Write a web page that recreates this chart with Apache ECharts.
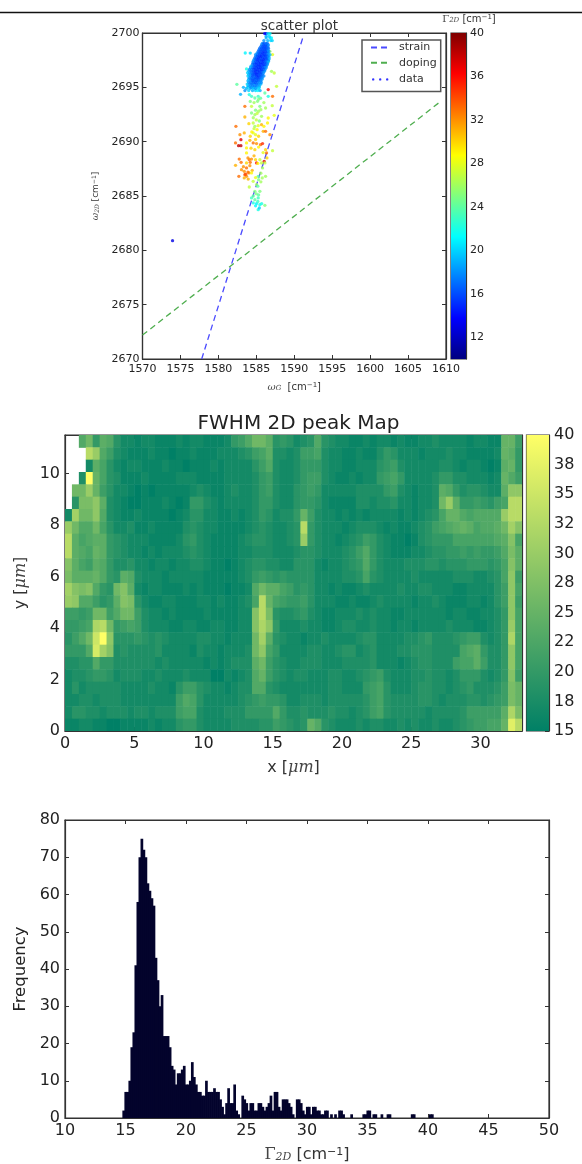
<!DOCTYPE html>
<html><head><meta charset="utf-8">
<script src="https://cdn.jsdelivr.net/npm/echarts@6/dist/echarts.min.js"></script>
<style>html,body{margin:0;padding:0;background:#fff}#c{width:582px;height:1164px;filter:blur(0.6px)}</style>
</head><body><div id="c"></div>
<script>
const n = null;
// ---- scatter plot: sparse points [omega_G, omega_2D, gamma_2D]
const sparsePoints = [
[1583.54,2698.16,21],[1583.71,2696.69,22],[1582.44,2695.28,24],[1582.92,2694.36,19],[1586.57,2694.79,36],[1587.14,2694.17,33],
[1587.67,2695.09,27],[1587.01,2696.47,26],[1587.36,2696.32,27],[1587.14,2698.01,28],[1586.79,2698.31,26],[1586.57,2697.39,25],
[1583.49,2693.25,33],[1584.37,2693.25,27],[1585.16,2693.71,25],[1585.47,2693.25,25],[1585.6,2692.94,26],[1586.22,2693.10,26],
[1587.1,2693.31,27],[1584.81,2694.02,24],[1585.25,2694.17,23],[1584.37,2694.17,23],[1584.07,2694.33,22],[1585.56,2694.0,24],
[1586.57,2694.17,22],[1586.13,2694.48,24],[1583.49,2692.27,31],[1584.37,2692.64,25],[1584.81,2692.48,26],[1585.69,2692.33,26],
[1586.57,2692.18,29],[1587.36,2692.42,28],[1582.31,2691.41,33],[1584.02,2691.66,30],[1584.59,2691.72,27],[1584.81,2691.41,26],
[1585.25,2691.47,28],[1585.69,2691.56,31],[1586.0,2691.41,29],[1586.48,2691.72,29],[1582.84,2690.64,32],[1583.41,2690.8,31],
[1584.59,2690.8,28],[1584.9,2690.64,28],[1585.91,2690.95,31],[1586.22,2690.95,33],[1586.79,2690.64,32],[1582.97,2690.18,37],
[1582.26,2689.88,33],[1582.66,2689.63,38],[1582.97,2689.63,38],[1583.71,2689.88,29],[1584.15,2690.12,31],[1584.59,2689.88,33],
[1585.03,2689.82,32],[1585.56,2689.72,33],[1585.82,2689.82,35],[1583.71,2689.42,29],[1584.81,2689.26,30],[1583.71,2688.96,29],
[1586.22,2689.26,30],[1587.14,2689.17,27],[1586.35,2688.96,33],[1582.75,2688.4,33],[1584.07,2688.34,33],[1584.37,2688.4,32],
[1584.9,2688.34,30],[1585.47,2688.34,27],[1586.04,2688.19,37],[1585.69,2688.04,27],[1582.26,2687.82,31],[1583.71,2688.04,30],
[1584.15,2687.79,32],[1583.71,2687.58,33],[1583.05,2687.42,32],[1583.41,2687.27,32],[1584.46,2687.36,31],[1585.03,2688.04,36],
[1586.13,2688.04,27],[1585.82,2687.58,26],[1582.7,2686.81,33],[1583.49,2686.96,34],[1583.71,2686.81,32],[1584.02,2687.12,32],
[1584.37,2687.12,29],[1583.41,2686.66,31],[1583.93,2686.56,31],[1585.25,2686.81,24],[1585.78,2686.66,26],[1586.22,2686.81,26],
[1584.59,2686.35,27],[1584.07,2685.83,27],[1585.03,2686.04,26],[1585.47,2685.43,25],[1584.81,2685.43,25],[1584.37,2684.82,23],
[1584.81,2684.66,24],[1585.25,2684.82,23],[1584.59,2684.36,22],[1585.03,2684.3,21],[1585.47,2684.2,22],[1585.25,2683.74,22],
[1586.13,2684.14,25],[1573.96,2680.89,13],
[1584.9,2692.9,25],[1585.1,2692.6,27],[1585.3,2692.8,26],[1584.6,2692.2,26],[1585.0,2692.0,27],[1585.4,2691.9,25],[1584.7,2691.2,27],
[1585.1,2691.1,29],[1584.4,2690.9,29],[1585.3,2690.5,30],[1584.2,2690.5,30],[1584.9,2690.2,30],[1585.3,2689.5,29],[1584.3,2689.4,30],
[1585.9,2689.0,28],[1586.4,2688.5,30],[1584.7,2688.7,31],[1583.9,2688.5,32],[1584.2,2688.1,33],[1585.2,2688.0,29],[1583.0,2688.1,33],
[1583.3,2687.7,32],[1583.9,2687.2,33],[1583.6,2687.0,34],[1585.6,2687.1,26],[1585.3,2686.5,25],[1585.6,2686.3,26],[1584.9,2686.7,28],
[1585.2,2685.9,24],[1585.0,2685.2,25],[1585.3,2685.1,24],[1584.6,2685.0,24],[1585.2,2684.5,23],[1584.9,2684.1,21],[1585.7,2684.3,22],
[1585.4,2683.9,20],[1584.7,2693.6,26],[1585.3,2693.9,25],[1586.0,2693.6,26],[1584.2,2693.7,25]
];
// dense blue cloud: [omega_2D, [omega_G, gamma, omega_G, gamma, ...]]
const cloudRows = [
[2694.7,[1583.5,18,1584.0,20,1584.5,19,1584.9,20,1585.2,21,1585.5,19]],
[2694.9,[1583.7,19,1584.2,19,1584.6,20,1584.9,18,1585.3,20]],
[2695.0,[1583.3,19,1583.9,20,1584.3,18,1584.6,19,1585.0,19,1585.4,20]],
[2695.15,[1583.9,19,1584.2,18,1584.5,18,1584.8,17,1585.1,18,1585.4,19]],
[2695.3,[1583.8,20,1584.15,18,1584.45,17,1584.75,18,1585.05,17,1585.35,18,1585.6,19]],
[2695.45,[1584.0,18,1584.3,17,1584.6,17,1584.85,16,1585.1,17,1585.4,18,1585.65,18]],
[2695.6,[1583.9,19,1584.25,18,1584.55,16,1584.8,17,1585.05,16,1585.3,17,1585.6,18]],
[2695.75,[1584.0,19,1584.3,17,1584.55,16,1584.8,16,1585.0,17,1585.25,16,1585.5,17,1585.75,18]],
[2695.9,[1584.05,18,1584.35,17,1584.6,17,1584.85,16,1585.1,16,1585.35,16,1585.6,17,1585.8,18]],
[2696.05,[1583.9,20,1584.2,18,1584.5,16,1584.75,17,1585.0,16,1585.25,15,1585.5,16,1585.75,17,1586.0,18]],
[2696.2,[1584.0,19,1584.3,18,1584.55,16,1584.8,16,1585.05,15,1585.3,16,1585.55,16,1585.8,17]],
[2696.35,[1583.85,20,1584.15,18,1584.45,17,1584.7,16,1584.95,15,1585.2,15,1585.45,16,1585.7,16,1585.95,18]],
[2696.5,[1584.0,19,1584.3,17,1584.6,16,1584.9,15,1585.15,16,1585.4,15,1585.65,16,1585.9,17,1586.1,18]],
[2696.65,[1584.1,18,1584.4,17,1584.7,16,1584.95,15,1585.2,15,1585.45,16,1585.7,15,1585.95,16,1586.15,18]],
[2696.8,[1584.25,18,1584.55,16,1584.8,15,1585.05,16,1585.3,15,1585.55,15,1585.8,16,1586.05,16,1586.3,18]],
[2696.95,[1584.3,19,1584.6,17,1584.85,16,1585.1,15,1585.35,16,1585.6,15,1585.85,16,1586.1,17,1586.3,18]],
[2697.1,[1584.5,18,1584.75,16,1585.0,16,1585.25,15,1585.5,15,1585.75,16,1586.0,15,1586.25,16,1586.45,18]],
[2697.25,[1584.55,17,1584.8,16,1585.05,15,1585.3,16,1585.55,15,1585.8,15,1586.05,16,1586.3,16,1586.5,18]],
[2697.4,[1584.6,18,1584.9,16,1585.15,16,1585.4,15,1585.65,16,1585.9,15,1586.15,16,1586.4,17,1586.6,19]],
[2697.55,[1584.7,18,1584.95,16,1585.2,15,1585.45,16,1585.7,15,1585.95,15,1586.2,16,1586.4,17,1586.65,18]],
[2697.7,[1584.8,17,1585.05,16,1585.3,15,1585.55,16,1585.8,16,1586.05,15,1586.3,16,1586.5,16,1586.7,19]],
[2697.85,[1584.95,17,1585.2,16,1585.45,15,1585.7,15,1585.95,16,1586.2,16,1586.4,16,1586.6,18]],
[2698.0,[1584.9,18,1585.15,16,1585.4,16,1585.65,15,1585.9,16,1586.1,15,1586.35,16,1586.6,17,1586.8,19]],
[2698.15,[1584.2,20,1585.1,18,1585.35,16,1585.6,16,1585.85,15,1586.1,16,1586.3,16,1586.55,18]],
[2698.3,[1585.25,17,1585.5,16,1585.75,16,1586.0,15,1586.25,16,1586.45,16,1586.65,18]],
[2698.45,[1585.35,17,1585.6,16,1585.85,16,1586.1,16,1586.3,16,1586.55,18]],
[2698.6,[1585.45,17,1585.7,16,1585.95,16,1586.15,16,1586.35,16,1586.6,17]],
[2698.75,[1585.6,17,1585.85,16,1586.05,16,1586.3,16,1586.5,17]],
[2698.9,[1585.7,17,1585.95,16,1586.2,16,1586.4,16,1586.6,18]],
[2699.05,[1585.8,18,1586.0,16,1586.25,17,1586.45,17]],
[2699.3,[1586.0,18,1586.5,19,1586.9,20,1587.1,20]],
[2699.55,[1586.3,19,1586.8,20,1587.0,21]],
[2699.7,[1586.3,19,1586.7,20]],
[2699.95,[1586.1,14,1586.3,14,1586.5,20,1586.8,21]]
];
const strainLine = [[1577.8,2670],[1591.1,2699.5]];
const dopingLine = [[1570,2672.2],[1609.1,2693.6]];
const scatterCbarTicks = [12,16,20,24,28,32,36,40];
const jetColors = ['#00007f','#0000ff','#007fff','#00ffff','#7fff7f','#ffff00','#ff7f00','#ff0000','#7f0000'];

// ---- FWHM map: 24 rows (top to bottom), 66 columns
const fwhmRows = [
[n,n,23,26,20,24,23,19,17,17,16,17,17,16,16,16,17,16,17,17,16,16,16,17,20,21,23,26,26,24,19,20,19,17,18,19,23,19,18,17,17,16,16,17,16,17,17,16,17,16,16,17,17,18,17,17,17,17,16,17,17,16,16,25,25,21],
[n,n,n,33,30,23,21,18,17,16,16,16,17,16,16,15,16,16,17,16,16,16,17,17,17,18,19,21,22,24,18,18,17,18,21,21,22,18,17,17,16,16,17,16,16,18,20,19,17,17,17,16,17,17,17,18,17,17,16,16,16,16,17,25,24,20],
[n,n,n,17,24,22,19,17,16,17,17,16,16,16,17,16,16,15,16,16,16,17,16,17,17,17,17,19,21,23,18,17,17,18,20,20,20,18,17,17,16,16,17,17,17,19,20,21,18,17,17,17,17,17,18,18,17,16,17,17,16,15,16,24,25,20],
[n,n,18,40,25,22,19,18,16,16,16,17,16,16,16,16,17,17,17,16,16,16,16,17,17,17,17,18,20,21,18,17,17,18,20,21,21,18,17,16,16,17,16,17,17,20,21,22,20,17,17,17,17,18,20,20,18,18,17,17,17,16,17,25,23,21],
[n,26,26,30,25,21,19,17,17,16,15,16,15,16,16,16,16,16,17,18,17,16,16,17,18,17,17,18,20,21,18,17,17,19,20,21,20,17,17,17,17,17,18,18,18,18,20,21,18,17,16,17,17,18,24,23,20,18,19,19,18,17,17,24,29,29],
[n,19,27,27,29,24,18,17,16,15,15,16,16,16,17,16,15,16,20,20,18,17,16,17,17,17,17,18,20,20,18,17,17,19,20,20,19,17,16,16,16,16,18,18,17,18,18,19,17,17,16,17,17,18,26,30,24,20,20,21,20,19,21,22,33,33],
[17,31,26,26,29,23,18,17,16,16,17,16,16,16,16,15,16,17,19,19,17,17,16,16,17,16,17,18,20,19,17,18,18,20,25,21,18,17,17,16,17,16,17,16,17,17,17,17,16,17,16,17,18,19,22,25,25,23,22,23,23,23,23,30,33,33],
[30,26,23,23,26,22,19,17,17,18,16,16,17,16,16,16,16,18,19,18,17,17,16,16,16,16,17,18,19,18,17,17,18,19,33,20,18,17,17,17,16,17,18,18,18,17,16,17,16,16,17,18,19,21,22,23,24,25,24,22,23,23,24,26,31,28],
[33,24,22,23,24,24,20,19,18,17,17,17,16,16,16,16,17,19,20,18,17,16,16,16,16,17,18,19,19,18,17,17,18,19,30,20,18,17,17,16,17,18,19,21,20,18,17,16,16,15,16,18,19,20,20,20,22,22,22,22,22,22,23,24,28,22],
[33,24,23,22,25,24,20,19,18,17,17,16,17,16,17,17,17,18,19,18,17,16,16,16,16,17,17,18,18,18,17,17,17,18,19,19,18,17,17,17,18,19,21,23,20,18,17,16,16,16,17,17,18,19,19,20,20,21,20,21,20,20,21,23,27,24],
[28,24,22,21,24,23,20,18,18,19,17,17,16,17,17,16,17,17,18,18,17,16,16,15,16,17,18,19,19,18,18,17,17,19,19,19,17,16,17,17,18,19,20,23,20,18,17,17,17,18,18,18,19,19,18,19,19,19,20,20,20,19,20,22,28,24],
[27,24,24,24,25,23,20,19,24,23,18,17,17,17,16,17,17,17,17,17,16,16,16,16,16,17,18,20,21,20,19,20,19,19,19,19,17,17,17,17,18,18,19,22,19,18,17,17,17,17,18,17,17,17,17,17,18,18,18,17,17,18,19,22,29,21],
[31,28,27,28,23,20,19,26,28,24,17,16,17,17,16,16,16,17,16,17,16,16,16,15,16,16,17,23,26,24,24,22,21,19,20,19,17,17,16,17,16,16,17,18,17,17,17,17,18,17,17,18,18,17,17,17,16,16,17,17,17,17,19,21,29,22],
[30,29,23,23,21,19,20,24,28,27,19,17,16,16,17,17,16,16,16,17,17,16,17,16,16,17,18,22,33,25,22,21,20,20,21,19,17,17,17,16,16,17,16,16,17,18,17,17,17,17,16,17,17,18,17,16,16,16,17,17,16,17,19,21,29,21],
[21,21,20,21,26,26,21,23,26,26,21,18,17,17,16,17,16,16,16,16,17,16,16,16,16,17,17,28,33,27,19,18,18,19,20,18,17,16,16,17,17,17,18,17,18,17,17,16,16,17,17,17,17,17,17,16,17,17,16,16,17,17,18,20,29,22],
[20,20,21,22,32,33,26,20,21,22,21,18,17,17,17,16,16,17,17,16,16,17,17,16,16,17,17,28,32,29,20,17,17,17,18,17,17,16,16,17,18,18,17,17,18,17,17,16,17,17,16,17,17,17,17,18,17,17,17,16,16,17,18,20,30,22],
[19,21,23,26,35,40,29,19,19,19,20,19,18,19,18,17,17,17,17,18,18,17,17,16,17,17,17,26,31,24,19,18,17,17,16,17,17,18,17,17,17,17,18,19,19,17,17,17,17,18,18,19,20,18,18,18,19,20,21,21,18,17,18,20,32,22],
[20,20,20,23,36,31,28,18,19,18,18,18,18,19,17,17,17,17,16,18,17,17,16,17,17,17,18,26,29,22,20,17,17,17,17,18,18,17,17,18,19,19,17,18,19,17,17,17,18,18,19,19,19,18,18,18,18,22,23,24,20,18,18,20,29,22],
[18,18,19,19,23,20,20,18,18,18,18,18,18,17,18,17,17,17,17,17,16,17,16,17,18,18,18,24,26,21,19,18,17,17,18,18,18,17,17,17,18,18,18,18,19,17,17,17,16,17,18,19,19,18,18,18,21,22,22,24,21,18,18,20,29,22],
[17,18,18,19,20,20,19,17,18,18,18,17,17,18,17,17,17,18,17,17,17,15,15,17,16,17,18,23,25,21,19,18,17,18,18,17,17,17,18,18,17,17,18,19,20,21,18,17,17,17,18,18,19,18,18,17,18,20,20,20,18,17,18,20,28,21],
[17,19,17,18,18,18,18,18,17,17,17,17,18,17,17,16,19,21,21,19,18,17,17,16,17,18,18,23,23,19,18,17,17,17,17,17,17,17,18,18,17,17,17,20,21,22,19,17,17,17,18,19,19,18,18,17,18,19,20,18,18,18,19,21,27,25],
[17,17,18,18,17,18,18,18,17,17,17,17,17,17,17,17,21,23,22,19,17,17,17,17,17,18,19,20,21,20,20,19,17,17,18,18,18,17,18,18,18,18,18,19,21,22,19,18,18,18,18,19,19,18,17,18,18,18,19,19,18,19,20,21,27,25],
[17,19,19,18,18,17,18,18,18,17,18,18,17,18,18,18,21,22,22,18,17,17,17,18,18,18,20,20,20,20,23,20,18,18,19,18,18,18,19,18,18,17,18,19,21,22,19,18,18,18,18,18,17,18,18,18,18,19,21,21,21,21,21,24,32,27],
[16,16,17,17,16,16,15,15,16,16,16,16,17,16,17,17,19,20,20,18,17,17,17,17,18,18,18,18,19,19,21,20,19,18,19,25,23,19,18,17,17,17,18,17,18,18,17,17,18,17,18,17,17,18,17,17,18,19,20,21,21,22,22,25,37,33]
];
const mapMaxX = 33, mapMaxY = 11.5;
const mapXTicks = [0,5,10,15,20,25,30];
const mapYTicks = [0,2,4,6,8,10];
const mapCbarLabels = ['15','18','20','22','25','28','30','32','35','38','40'];

// ---- histogram
const histStart = 14.77, histBinWidth = 0.1667;
const histCounts = [2,7,7,10,19,23,41,58,70,75,72,70,63,61,59,57,43,37,30,33,22,22,22,19,14,13,9,12,12,13,14,9,9,10,15,11,9,7,7,6,6,10,7,7,7,8,7,7,5,3,1,4,8,4,4,9,2,1,0,6,5,4,2,4,4,2,2,4,4,3,2,3,4,6,2,7,7,3,2,5,5,5,4,3,1,0,5,5,4,2,1,3,3,1,3,3,2,2,1,1,2,2,0,1,0,1,0,2,2,1,0,0,0,1,0,0,0,0,0,1,1,2,2,0,1,1,0,0,1,0,0,1,1,0,0,0,0,0,0,0,0,0,0,1,1,0,0,0,0,0,0,0,1,1];

// ---- build data
const scatterData = sparsePoints.slice();
cloudRows.forEach(([y, pairs]) => { for (let i = 0; i < pairs.length; i += 2) scatterData.push([pairs[i], y, pairs[i + 1]]); });
const cellW = mapMaxX / fwhmRows[0].length, cellH = mapMaxY / fwhmRows.length;
const mapData = [];
fwhmRows.forEach((row, r) => row.forEach((v, c) => {
  if (v !== null) mapData.push([c * cellW, (fwhmRows.length - 1 - r) * cellH, v]);
}));
const histData = histCounts.map((v, i) => [histStart + (i + 0.5) * histBinWidth, v]);

const FONT = '"DejaVu Sans"', INK = '#222', EDGE = '#333';
function rich(fs) {
  return {
    m: { fontFamily: '"DejaVu Serif"', fontStyle: 'italic', color: '#444', fontWeight: 'normal', fontSize: fs, verticalAlign: 'middle' },
    g: { fontFamily: '"DejaVu Serif"', color: '#444', fontWeight: 'normal', fontSize: fs, verticalAlign: 'middle' },
    s: { fontFamily: '"DejaVu Serif"', fontStyle: 'italic', color: '#444', fontWeight: 'normal', fontSize: Math.round(fs * 0.7), verticalAlign: 'bottom' },
    t: { fontFamily: FONT, color: '#333', fontWeight: 'normal', fontSize: fs, verticalAlign: 'middle' },
    p: { fontFamily: FONT, color: '#333', fontWeight: 'normal', fontSize: Math.round(fs * 0.7), verticalAlign: 'top' }
  };
}
function mainAxis(o) {
  return Object.assign({
    type: 'value', splitLine: { show: false }, scale: false,
    axisLine: { show: true, onZero: false, lineStyle: { color: EDGE, width: 1.2 } },
    axisTick: { show: true, inside: true, length: 4, lineStyle: { color: EDGE } },
    axisLabel: { color: INK, fontFamily: FONT }
  }, o);
}
function mirror(a, position) {
  const m = JSON.parse(JSON.stringify(a));
  m.position = position; m.name = undefined;
  m.axisLabel = Object.assign(m.axisLabel, { show: false });
  return m;
}
const plain = v => String(v);

const xS = mainAxis({ gridIndex: 0, min: 1570, max: 1610, interval: 5, position: 'bottom',
  axisLabel: { color: INK, fontFamily: FONT, fontSize: 11, margin: 5, formatter: plain },
  name: '{m|ω}{s|G}{t|  [cm}{p|−1}{t|]}', nameLocation: 'middle', nameGap: 23, nameTextStyle: { rich: rich(10) } });
const yS = mainAxis({ gridIndex: 0, min: 2670, max: 2700, interval: 5, position: 'left',
  axisLabel: { color: INK, fontFamily: FONT, fontSize: 11, margin: 3, formatter: plain },
  name: '{m|ω}{s|2D}{t| [cm}{p|−1}{t|]}', nameLocation: 'middle', nameGap: 36, nameTextStyle: { rich: rich(9) } });
const xM = mainAxis({ gridIndex: 2, min: 0, max: mapMaxX, position: 'bottom',
  axisTick: { show: true, inside: true, length: 4, lineStyle: { color: EDGE }, customValues: mapXTicks },
  axisLabel: { color: INK, fontFamily: FONT, fontSize: 16, margin: 5, customValues: mapXTicks },
  name: '{t|x [}{m|μm}{t|]}', nameLocation: 'middle', nameGap: 29, nameTextStyle: { rich: rich(16) } });
const yM = mainAxis({ gridIndex: 2, min: 0, max: mapMaxY, position: 'left',
  axisTick: { show: true, inside: true, length: 4, lineStyle: { color: EDGE }, customValues: mapYTicks },
  axisLabel: { color: INK, fontFamily: FONT, fontSize: 16, margin: 5, customValues: mapYTicks },
  name: '{t|y [}{m|μm}{t|]}', nameLocation: 'middle', nameGap: 32, nameTextStyle: { rich: rich(16) } });
const xH = mainAxis({ gridIndex: 4, min: 10, max: 50, interval: 5, position: 'bottom',
  axisLabel: { color: INK, fontFamily: FONT, fontSize: 16, margin: 5 },
  name: '{g|Γ}{s|2D}{t| [cm}{p|−1}{t|]}', nameLocation: 'middle', nameGap: 29, nameTextStyle: { rich: rich(16) } });
const yH = mainAxis({ gridIndex: 4, min: 0, max: 80, interval: 10, position: 'left',
  axisLabel: { color: INK, fontFamily: FONT, fontSize: 16, margin: 5 },
  name: 'Frequency', nameLocation: 'middle', nameGap: 33, nameTextStyle: { color: INK, fontFamily: FONT, fontSize: 16.5 } });

const cbarX = g => ({ gridIndex: g, type: 'category', data: ['c'], show: false, boundaryGap: true });
const cbarYS = mainAxis({ gridIndex: 1, min: 10, max: 40, position: 'right',
  axisTick: { show: true, inside: true, length: 3, lineStyle: { color: EDGE }, customValues: scatterCbarTicks },
  axisLabel: { color: INK, fontFamily: FONT, fontSize: 11, margin: 4, customValues: scatterCbarTicks } });
const cbarYM = mainAxis({ gridIndex: 3, min: 15, max: 40, interval: 2.5, position: 'right',
  axisTick: { show: true, inside: true, length: 4, lineStyle: { color: EDGE } },
  axisLabel: { color: INK, fontFamily: FONT, fontSize: 16, margin: 5, formatter: (v, i) => mapCbarLabels[i] } });

const gridBox = (left, top, right, bottom) => ({ left, top, width: right - left, height: bottom - top,
  show: true, borderColor: EDGE, borderWidth: 1.2, backgroundColor: '#fff', containLabel: false });
const noSymbol = 'path://M0,0L10,10';

const chart = echarts.init(document.getElementById('c'));
chart.setOption({
  animation: false,
  backgroundColor: '#fff',
  graphic: [{ type: 'line', shape: { x1: 0, y1: 12.5, x2: 582, y2: 12.5 }, style: { stroke: '#111', lineWidth: 1.3 }, silent: true }],
  title: [
    { text: 'scatter plot', left: 294.5, top: 14, textAlign: 'center', textStyle: { color: '#333', fontFamily: FONT, fontSize: 13.5, fontWeight: 'normal' } },
    { text: '{g|Γ}{s|2D}{t| [cm}{p|−1}{t|]}', left: 464, top: 9, textAlign: 'center', textStyle: { rich: rich(10) } },
    { text: 'FWHM 2D peak Map', left: 293.5, top: 409, textAlign: 'center', textStyle: { color: '#222', fontFamily: FONT, fontSize: 20, fontWeight: 'normal' } }
  ],
  grid: [gridBox(142.5, 33, 446, 359), gridBox(451, 33, 466, 359), gridBox(65, 435, 522, 731), gridBox(526.5, 435, 549, 731), gridBox(65, 820, 549, 1118)],
  xAxis: [xS, mirror(xS, 'top'), cbarX(1), xM, mirror(xM, 'top'), cbarX(3), xH, mirror(xH, 'top')],
  yAxis: [yS, mirror(yS, 'right'), cbarYS, yM, mirror(yM, 'right'), cbarYM, yH, mirror(yH, 'right')],
  legend: {
    left: 362, top: 40, orient: 'vertical', selectedMode: false,
    itemWidth: 18, itemHeight: 14, itemGap: 4,
    padding: [2, 4, 5, 8], borderColor: '#555', borderWidth: 1.5, backgroundColor: '#fff', borderRadius: 0,
    textStyle: { color: '#333', fontFamily: FONT, fontSize: 11, padding: [0, 0, 0, 5] },
    data: [
      { name: 'strain' }, { name: 'doping' },
      { name: 'data', icon: 'path://M0,0L0,0M18,14L18,14M1,7a1.2,1.2 0 1,0 2.4,0a1.2,1.2 0 1,0 -2.4,0M8,7a1.2,1.2 0 1,0 2.4,0a1.2,1.2 0 1,0 -2.4,0M15,7a1.2,1.2 0 1,0 2.4,0a1.2,1.2 0 1,0 -2.4,0', itemStyle: { color: '#0000ff' } }
    ]
  },
  visualMap: [
    { show: false, type: 'continuous', seriesIndex: 2, dimension: 2, min: 10, max: 40, inRange: { color: jetColors } },
    { show: false, type: 'continuous', seriesIndex: 4, dimension: 2, min: 15, max: 40, inRange: { color: ['#008066', '#ffff66'] } }
  ],
  series: [
    { name: 'strain', type: 'line', xAxisIndex: 0, yAxisIndex: 0, data: strainLine, showSymbol: false, symbol: noSymbol, z: 2,
      lineStyle: { color: '#4a4aff', width: 1.3, type: [6, 4] }, itemStyle: { color: '#4a4aff', borderWidth: 0 } },
    { name: 'doping', type: 'line', xAxisIndex: 0, yAxisIndex: 0, data: dopingLine, showSymbol: false, symbol: noSymbol, z: 2,
      lineStyle: { color: '#4fae4f', width: 1.3, type: [6, 4] }, itemStyle: { color: '#4fae4f', borderWidth: 0 } },
    { name: 'data', type: 'scatter', xAxisIndex: 0, yAxisIndex: 0, data: scatterData, symbolSize: 3.3, z: 3, silent: true, clip: false },
    { type: 'bar', xAxisIndex: 2, yAxisIndex: 2, data: [40], barWidth: '100%', silent: true,
      itemStyle: { color: new echarts.graphic.LinearGradient(0, 0, 0, 1, jetColors.slice().reverse().map((c, i) => ({ offset: i / (jetColors.length - 1), color: c }))) } },
    { type: 'custom', xAxisIndex: 3, yAxisIndex: 3, data: mapData, clip: true, silent: true, encode: { x: 0, y: 1 },
      renderItem(params, api) {
        const x = api.value(0), y = api.value(1);
        const a = api.coord([x, y + cellH]), b = api.coord([x + cellW, y]);
        return { type: 'rect', shape: { x: a[0], y: a[1], width: b[0] - a[0] + 0.5, height: b[1] - a[1] + 0.5 }, style: { fill: api.visual('color') } };
      } },
    { type: 'bar', xAxisIndex: 5, yAxisIndex: 5, data: [40], barWidth: '100%', silent: true,
      itemStyle: { color: new echarts.graphic.LinearGradient(0, 0, 0, 1, [{ offset: 0, color: '#ffff66' }, { offset: 1, color: '#008066' }]) } },
    { type: 'bar', xAxisIndex: 6, yAxisIndex: 6, data: histData, barWidth: 2.7, silent: true, itemStyle: { color: '#03032c' } }
  ]
});
</script></body></html>
